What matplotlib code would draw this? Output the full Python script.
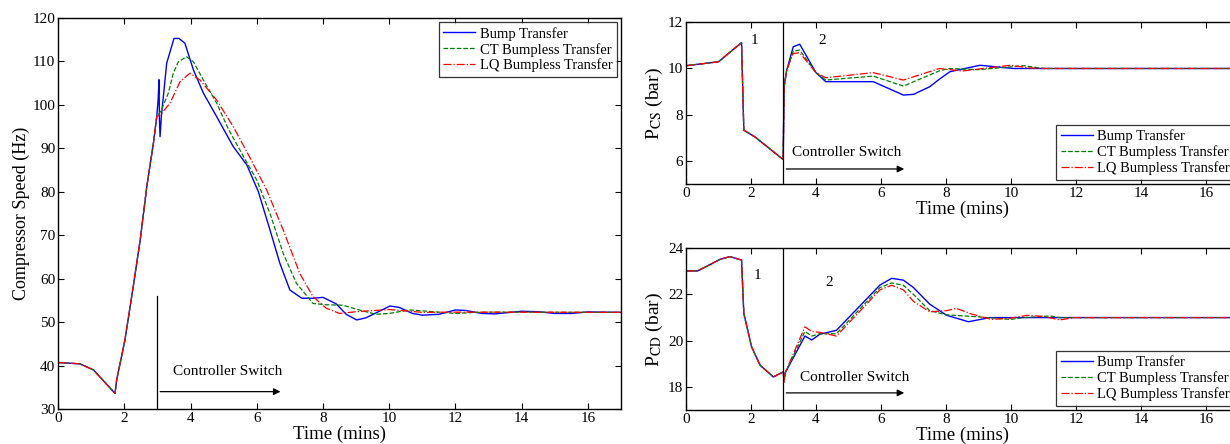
import numpy as np
import matplotlib
matplotlib.use("Agg")
import matplotlib.pyplot as plt

plt.rcParams['font.family'] = ['Liberation Serif', 'DejaVu Serif']
plt.rcParams['mathtext.fontset'] = 'stix'
plt.rcParams['xtick.direction'] = 'in'
plt.rcParams['ytick.direction'] = 'in'
plt.rcParams['xtick.top'] = True
plt.rcParams['ytick.right'] = True

labels = ["Bump Transfer", "CT Bumpless Transfer", "LQ Bumpless Transfer"]

# Compressor speed (Hz)
t_pre = [0.0, 0.66, 1.07, 1.72, 1.77, 2.02, 2.27, 2.48, 2.68, 2.88, 2.98]
spd_pre = [40.7, 40.4, 39.0, 33.6, 36.7, 45.9, 58.2, 68.9, 81.2, 91.2, 97.3]

t_bump = [3.02, 3.05, 3.06, 3.08, 3.12, 3.18, 3.28, 3.5, 3.65, 3.83, 4.09, 4.39, 4.79, 5.29, 5.7, 6.05,
          6.4, 6.7, 7.0, 7.36, 7.7, 8.0, 8.4, 8.7, 9.02, 9.3, 9.7, 10.02, 10.3, 10.7, 11.0, 11.5,
          12.0, 12.3, 12.8, 13.2, 14.0, 14.5, 15.0, 15.5, 16.0, 17.0]
spd_bump = [101.0, 105.8, 97.0, 92.7, 97.5, 101.9, 109.6, 115.3, 115.3, 114.2, 108.0, 102.7, 97.3, 90.4, 86.2,
            80.0, 71.2, 63.5, 57.4, 55.5, 55.5, 55.7, 54.2, 51.8, 50.5, 51.0, 52.5, 53.7, 53.4, 52.0, 51.6,
            51.8, 52.8, 52.7, 52.0, 51.9, 52.5, 52.4, 52.0, 52.0, 52.35, 52.25]

t_ct = [3.1, 3.33, 3.48, 3.63, 3.88, 4.09, 4.39, 4.79, 5.14, 5.6, 6.0, 6.4, 6.8, 7.2, 7.7, 8.1, 8.6,
        9.0, 9.6, 10.0, 10.6, 11.0, 12.0, 12.5, 13.0, 14.0, 17.0]
spd_ct = [98.5, 102.7, 107.3, 109.9, 111.1, 109.9, 105.7, 100.4, 94.5, 88.1, 82.7, 75.0, 65.8, 58.9, 54.3,
          54.0, 53.9, 53.0, 51.8, 52.0, 52.8, 52.6, 52.0, 52.2, 52.3, 52.3, 52.25]

t_lq = [3.1, 3.38, 3.68, 3.98, 4.29, 4.79, 5.29, 5.8, 6.3, 6.8, 7.3, 7.7, 8.1, 8.5, 9.0, 10.0,
        11.0, 12.0, 17.0]
spd_lq = [97.8, 100.4, 105.3, 107.3, 105.7, 101.1, 95.0, 87.8, 80.4, 71.2, 61.2, 55.85, 53.2, 52.0,
          52.4, 52.9, 52.25, 52.3, 52.25]

# Suction pressure P_CS (bar)
t_cs_pre = [0.0, 1.0, 1.71, 1.78, 2.12, 2.99]
pcs_pre = [10.12, 10.29, 11.12, 7.33, 7.04, 6.06]
t_cs_bump = [3.02, 3.1, 3.3, 3.5, 4.0, 4.3, 5.76, 6.69, 7.0, 7.5, 7.8, 8.12, 9.05, 10.07, 11.0, 17.0]
pcs_bump = [9.21, 9.93, 10.94, 11.05, 9.82, 9.43, 9.43, 8.85, 8.88, 9.21, 9.54, 9.86, 10.14, 10.0, 10.0, 10.0]
t_cs_ct = [3.02, 3.1, 3.3, 3.5, 4.0, 4.3, 5.76, 6.69, 7.8, 8.1, 9.0, 10.4, 11.0, 17.0]
pcs_ct = [9.21, 9.93, 10.75, 10.8, 9.82, 9.5, 9.67, 9.24, 9.9, 10.0, 9.95, 10.12, 10.0, 10.0]
t_cs_lq = [3.02, 3.1, 3.3, 3.5, 4.0, 4.3, 5.76, 6.69, 7.8, 8.5, 9.98, 10.6, 11.0, 17.0]
pcs_lq = [9.21, 9.93, 10.65, 10.68, 9.82, 9.6, 9.82, 9.5, 10.0, 9.89, 10.14, 10.02, 10.0, 10.0]

# Discharge pressure P_CD (bar)
t_cd_pre = [0.0, 0.36, 1.05, 1.35, 1.71, 1.78, 2.02, 2.28, 2.69, 2.99]
pcd_pre = [23.02, 23.02, 23.52, 23.64, 23.49, 21.18, 19.73, 18.94, 18.43, 18.65]
t_cd_bump = [3.02, 3.05, 3.66, 3.87, 4.12, 4.63, 5.97, 6.33, 6.69, 7.0, 7.5, 8.02, 8.69, 9.35, 17.0]
pcd_bump = [18.3, 18.6, 20.2, 20.03, 20.28, 20.45, 22.41, 22.7, 22.62, 22.3, 21.58, 21.1, 20.82, 21.0, 21.0]
t_cd_ct = [3.02, 3.05, 3.66, 3.87, 4.12, 4.63, 5.97, 6.33, 6.69, 7.0, 7.5, 8.02, 8.8, 9.56, 9.97, 10.4,
           11.2, 11.5, 17.0]
pcd_ct = [18.3, 18.6, 20.4, 20.2, 20.3, 20.3, 22.3, 22.5, 22.4, 22.0, 21.3, 21.12, 21.05, 20.97, 20.92,
          21.0, 21.07, 21.0, 21.0]
t_cd_lq = [3.02, 3.05, 3.66, 3.87, 4.12, 4.63, 5.97, 6.33, 6.69, 7.0, 7.5, 8.02, 8.31, 8.8, 9.4, 9.97,
           10.5, 11.0, 11.5, 11.97, 17.0]
pcd_lq = [18.2, 18.6, 20.6, 20.4, 20.36, 20.2, 22.2, 22.4, 22.2, 21.7, 21.25, 21.3, 21.4, 21.15, 20.92,
          20.97, 21.1, 21.05, 20.9, 21.0, 21.0]

styles = [dict(color=(0, 0, 1), ls='-', lw=1.0),
          dict(color=(0, 0.5, 0), ls='--', lw=0.9),
          dict(color=(1, 0, 0), ls='-.', lw=0.9)]


def draw(ax, t_pre, y_pre, series):
    for (t, y), st, lab in zip(series, styles, labels):
        ax.plot(t_pre + t, y_pre + y, label=lab, **st)
    ax.set_xlim(0, 17)
    ax.set_xticks(np.arange(0, 17, 2))
    ax.tick_params(labelsize=11, length=4, width=0.8, pad=2)
    ax.set_xlabel("Time (mins)", fontsize=13.5, labelpad=0.5)
    for s in ax.spines.values():
        s.set_linewidth(1.0)


def legend(ax, loc):
    lg = ax.legend(loc=loc, fontsize=10.5, fancybox=False, edgecolor='k',
                   borderaxespad=0.3, handlelength=2.2, labelspacing=0.15, borderpad=0.3,
                   handletextpad=0.3)
    lg.get_frame().set_linewidth(0.9)


def switch_arrow(ax, y):
    ax.annotate("", xy=(6.8, y), xytext=(3, y),
                arrowprops=dict(arrowstyle='-|>', color='k', lw=0.9, mutation_scale=10))


fig = plt.figure(figsize=(12.3, 4.44), dpi=100)

# left: compressor speed
ax1 = fig.add_axes([0.0472, 0.0788, 0.4577, 0.8806])
draw(ax1, t_pre, spd_pre, [(t_bump, spd_bump), (t_ct, spd_ct), (t_lq, spd_lq)])
ax1.set_ylim(30, 120)
ax1.set_yticks(np.arange(30, 121, 10))
ax1.set_ylabel("Compressor Speed (Hz)", fontsize=13, labelpad=2)
ax1.plot([3, 3], [30, 56], color='k', lw=0.9)
switch_arrow(ax1, 34)
ax1.text(3.48, 38.6, "Controller Switch", fontsize=11, va='center')
legend(ax1, 'upper right')

# top right: suction pressure
ax2 = fig.add_axes([0.5577, 0.5856, 0.4492, 0.3642])
draw(ax2, t_cs_pre, pcs_pre, [(t_cs_bump, pcs_bump), (t_cs_ct, pcs_ct), (t_cs_lq, pcs_lq)])
ax2.set_ylim(5, 12)
ax2.set_yticks([6, 8, 10, 12])
ax2.set_ylabel(r"P$_{\rm CS}$ (bar)", fontsize=14, labelpad=2)
ax2.axvline(3, color='k', lw=0.9)
switch_arrow(ax2, 5.65)
ax2.text(3.26, 6.35, "Controller Switch", fontsize=11, va='center')
ax2.text(2.12, 11.2, "1", fontsize=11, ha='center', va='center')
ax2.text(4.18, 11.2, "2", fontsize=11, ha='center', va='center')
legend(ax2, 'lower right')

# bottom right: discharge pressure
ax3 = fig.add_axes([0.5577, 0.0766, 0.4492, 0.3642])
draw(ax3, t_cd_pre, pcd_pre, [(t_cd_bump, pcd_bump), (t_cd_ct, pcd_ct), (t_cd_lq, pcd_lq)])
ax3.set_ylim(17, 24)
ax3.set_yticks([18, 20, 22, 24])
ax3.set_ylabel(r"P$_{\rm CD}$ (bar)", fontsize=14, labelpad=2)
ax3.axvline(3, color='k', lw=0.9)
switch_arrow(ax3, 17.74)
ax3.text(3.5, 18.4, "Controller Switch", fontsize=11, va='center')
ax3.text(2.2, 22.83, "1", fontsize=11, ha='center', va='center')
ax3.text(4.4, 22.5, "2", fontsize=11, ha='center', va='center')
legend(ax3, 'lower right')

fig.savefig("out.png", dpi=100)
